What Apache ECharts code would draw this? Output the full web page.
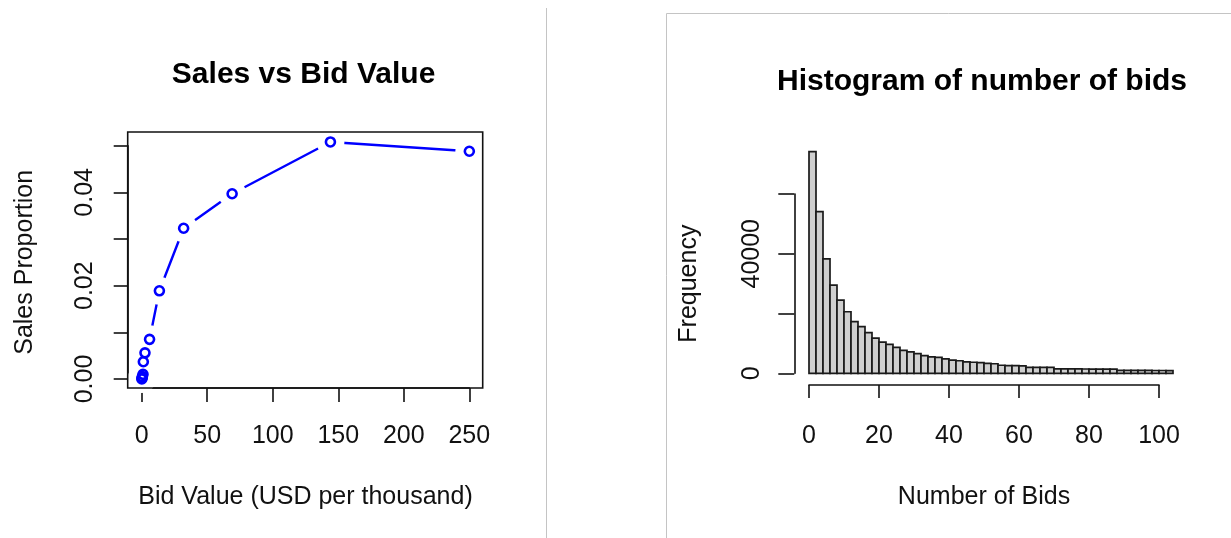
<!DOCTYPE html>
<html><head><meta charset="utf-8">
<script src="https://cdn.jsdelivr.net/npm/echarts@6/dist/echarts.min.js"></script>
<style>html,body{margin:0;padding:0;background:#fff}#c{width:1231px;height:538px}</style>
</head><body><div id="c"></div>
<script>
// ---- Left chart data: Sales vs Bid Value ----
const bidValues = [0.1, 0.25, 0.5, 1, 1.25, 2.5, 6, 13.5, 32, 69, 144, 250];
const salesProportion = [0.0000, 0.0002, 0.0005, 0.0010, 0.0037, 0.0056, 0.0085, 0.0189, 0.0323, 0.0397, 0.0508, 0.0488];
const bidTicks = [0, 50, 100, 150, 200, 250];
const salesTickLabels = ['0.00', '0.02', '0.04'];

// ---- Right chart data: Histogram of number of bids ----
const binEdges = [0,2,4,6,8,10,12,14,16,18,20,22,24,26,28,30,32,34,36,38,40,42,44,46,48,50,
  52,54,56,58,60,62,64,66,68,70,72,74,76,78,80,82,84,86,88,90,92,94,96,98,100,102,104];
const binCounts = [74200, 54100, 38300, 29500, 24500, 20600, 17300, 15600, 13600, 11800,
  10400, 9700, 8700, 7700, 7200, 6600, 5900, 5500, 5300, 4800,
  4400, 4200, 3800, 3700, 3600, 3300, 3200, 2700, 2600, 2600,
  2500, 2000, 2000, 1950, 1950, 1500, 1480, 1460, 1450, 1440,
  1430, 1420, 1400, 1400, 1000, 980, 970, 960, 950, 940,
  930, 920];
const bidsTicks = [0, 20, 40, 60, 80, 100];
const freqTickLabels = ['0', '40000'];

const FONT = "'Liberation Sans', Arial, sans-serif";
const chart = echarts.init(document.getElementById('c'), null, {renderer: 'canvas'});

const linePairs = bidValues.map((v, i) => [v, salesProportion[i]]);
const histData = binCounts.map((c, i) => [binEdges[i], binEdges[i + 1], c]);

const axisLine = {show: true, lineStyle: {color: '#111', width: 1.6}};
const axisTick = {show: true, inside: false, length: 14, lineStyle: {color: '#111', width: 1.6}};
const lbl = {color: '#111', fontFamily: FONT, fontSize: 25};
const hidden = (g, extra) => Object.assign({gridIndex: g, type: 'value', show: false}, extra || {});

const option = {
  animation: false,
  backgroundColor: '#fff',
  grid: [
    {left: 127.7, top: 132, width: 355, height: 256, show: true, borderColor: '#111', borderWidth: 1.6, backgroundColor: 'transparent', z: 10},
    {left: 141.7, top: 387, width: 327.6, height: 1},
    {left: 127.7, top: 145.7, width: 1, height: 233.3},
    {left: 809, top: 149.2, width: 364, height: 224.1},
    {left: 809, top: 384, width: 350, height: 1},
    {left: 794.3, top: 194, width: 1, height: 179.3}
  ],
  xAxis: [
    hidden(0, {min: -10.68, max: 260.2}),
    {gridIndex: 1, type: 'value', min: bidTicks[0], max: bidTicks[bidTicks.length - 1], interval: 50,
      axisLine, axisTick, splitLine: {show: false},
      axisLabel: Object.assign({margin: 36, showMinLabel: true, showMaxLabel: true}, lbl),
      name: 'Bid Value (USD per thousand)', nameLocation: 'middle', nameGap: 97, nameTextStyle: lbl},
    hidden(2),
    hidden(3, {min: 0, max: 104}),
    {gridIndex: 4, type: 'value', min: bidsTicks[0], max: bidsTicks[bidsTicks.length - 1], interval: 20,
      axisLine, axisTick: Object.assign({}, axisTick, {length: 13}), splitLine: {show: false},
      axisLabel: Object.assign({margin: 39, showMinLabel: true, showMaxLabel: true}, lbl),
      name: 'Number of Bids', nameLocation: 'middle', nameGap: 100, nameTextStyle: lbl},
    hidden(5)
  ],
  yAxis: [
    hidden(0, {min: -0.00193, max: 0.05293}),
    hidden(1),
    {gridIndex: 2, type: 'value', min: 0, max: 0.05, interval: 0.01,
      axisLine, axisTick, splitLine: {show: false},
      axisLabel: Object.assign({rotate: 90, margin: 30, showMinLabel: true, showMaxLabel: true,
        formatter: v => { const s = v.toFixed(2); return salesTickLabels.includes(s) ? s : ''; }}, lbl),
      name: 'Sales Proportion', nameLocation: 'middle', nameRotate: 90, nameGap: 90, nameTextStyle: lbl},
    hidden(3, {min: 0, max: 75000}),
    hidden(4),
    {gridIndex: 5, type: 'value', min: 0, max: 60000, interval: 20000,
      axisLine, axisTick: Object.assign({}, axisTick, {length: 16}), splitLine: {show: false},
      axisLabel: Object.assign({rotate: 90, margin: 30, showMinLabel: true, showMaxLabel: true,
        formatter: v => { const s = String(Math.round(v)); return freqTickLabels.includes(s) ? s : ''; }}, lbl),
      name: 'Frequency', nameLocation: 'middle', nameRotate: 90, nameGap: 93, nameTextStyle: lbl}
  ],
  graphic: [
    {type: 'line', silent: true, shape: {x1: 546.5, y1: 8, x2: 546.5, y2: 538}, style: {stroke: '#c4c4c4', lineWidth: 1}},
    {type: 'polyline', silent: true, shape: {points: [[666.5, 538], [666.5, 13.5], [1231, 13.5]]}, style: {stroke: '#c4c4c4', lineWidth: 1, fill: null}},
    {type: 'text', silent: true, x: 303.6, y: 75, style: {text: 'Sales vs Bid Value', fontFamily: FONT, fontWeight: 'bold', fontSize: 30, fill: '#000', textAlign: 'center', textVerticalAlign: 'middle'}},
    {type: 'text', silent: true, x: 982, y: 82, style: {text: 'Histogram of number of bids', fontFamily: FONT, fontWeight: 'bold', fontSize: 30, fill: '#000', textAlign: 'center', textVerticalAlign: 'middle'}}
  ],
  series: [
    {type: 'line', xAxisIndex: 0, yAxisIndex: 0, data: linePairs, silent: true,
      lineStyle: {color: '#0000ff', width: 2.4}, symbol: 'circle', symbolSize: 28,
      itemStyle: {color: '#fff', borderWidth: 0}, z: 2},
    {type: 'scatter', xAxisIndex: 0, yAxisIndex: 0, data: linePairs, silent: true,
      symbol: 'circle', symbolSize: 9,
      itemStyle: {color: 'rgba(255,255,255,0)', borderColor: '#0000ff', borderWidth: 2.6, opacity: 1}, z: 3},
    {type: 'custom', xAxisIndex: 3, yAxisIndex: 3, data: histData, silent: true,
      encode: {x: [0, 1], y: 2},
      renderItem: (params, api) => {
        const p0 = api.coord([api.value(0), api.value(2)]);
        const p1 = api.coord([api.value(1), 0]);
        return {type: 'rect', shape: {x: p0[0], y: p0[1], width: p1[0] - p0[0], height: p1[1] - p0[1]},
          style: {fill: '#cfcfcf', stroke: '#1a1a1a', lineWidth: 1.7}};
      }}
  ]
};
chart.setOption(option);
</script></body></html>
